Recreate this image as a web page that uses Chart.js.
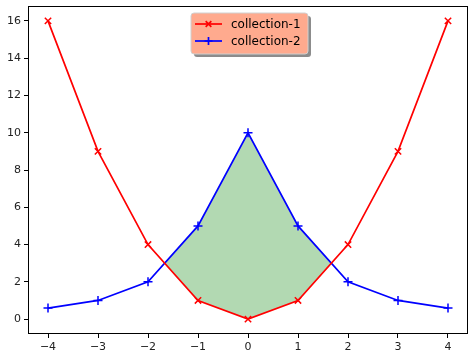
<!DOCTYPE html>
<html>
<head>
<meta charset="utf-8">
<script src="https://cdn.jsdelivr.net/npm/chart.js"></script>
<style>
  body { margin: 0; background: #fff; }
  #wrap { width: 474px; height: 358px; }
</style>
</head>
<body>
<div id="wrap"><canvas id="chart" width="474" height="358"></canvas></div>
<script>
// data
var xValues = [-4, -3, -2, -1, 0, 1, 2, 3, 4];
var collection1 = [16, 9, 4, 1, 0, 1, 4, 9, 16];
var collection2 = [0.59, 1, 2, 5, 10, 5, 2, 1, 0.59];
var xTicks = [-4, -3, -2, -1, 0, 1, 2, 3, 4];
var yTicks = [0, 2, 4, 6, 8, 10, 12, 14, 16];
var seriesNames = ['collection-1', 'collection-2'];

function pts(ys) {
    return xValues.map(function (x, i) { return { x: x, y: ys[i] }; });
}

function fmt(v) {
    return v < 0 ? '\u2212' + Math.abs(v) : String(v);
}

// frame on all four sides + the legend box
var framePlugin = {
    id: 'frame',
    afterDraw: function (chart) {
        var c = chart.ctx, a = chart.chartArea;
        c.save();
        c.strokeStyle = '#000';
        c.lineWidth = 1;
        c.strokeRect(Math.round(a.left) + 0.5, Math.round(a.top) + 0.5,
            Math.round(a.right - a.left) - 1, Math.round(a.bottom - a.top) - 1);

        // legend
        var bx = 191, by = 13, bw = 117, bh = 41;
        c.fillStyle = 'rgba(0,0,0,0.45)';
        roundRect(c, bx + 3, by + 3, bw, bh, 3);
        c.fill();
        c.fillStyle = '#FFAA8E';
        roundRect(c, bx, by, bw, bh, 3);
        c.fill();
        c.strokeStyle = '#d0d0d0';
        c.stroke();

        var rows = [
            { name: seriesNames[0], color: 'red', style: 'crossRot', y: by + 11 },
            { name: seriesNames[1], color: 'blue', style: 'cross', y: by + 28 }
        ];
        rows.forEach(function (r) {
            c.strokeStyle = r.color;
            c.lineWidth = 1.7;
            c.beginPath();
            c.moveTo(bx + 4, r.y);
            c.lineTo(bx + 31, r.y);
            c.stroke();
            Chart.helpers.drawPoint(c, { pointStyle: r.style, radius: 4, borderWidth: 1.5 }, bx + 17.5, r.y);
            c.fillStyle = '#000';
            c.font = '12px "DejaVu Sans"';
            c.textBaseline = 'middle';
            c.fillText(r.name, bx + 40, r.y + 1);
        });
        c.restore();
    }
};

function roundRect(c, x, y, w, h, r) {
    c.beginPath();
    c.moveTo(x + r, y);
    c.lineTo(x + w - r, y);
    c.quadraticCurveTo(x + w, y, x + w, y + r);
    c.lineTo(x + w, y + h - r);
    c.quadraticCurveTo(x + w, y + h, x + w - r, y + h);
    c.lineTo(x + r, y + h);
    c.quadraticCurveTo(x, y + h, x, y + h - r);
    c.lineTo(x, y + r);
    c.quadraticCurveTo(x, y, x + r, y);
    c.closePath();
}

var ctx = document.getElementById('chart').getContext('2d');

var myChart = new Chart(ctx, {
    type: 'line',
    data: {
        datasets: [{
            label: seriesNames[0],
            data: pts(collection1),
            borderColor: 'red',
            backgroundColor: 'red',
            borderWidth: 1.7,
            pointStyle: 'crossRot',
            pointRadius: 4.5,
            pointBorderWidth: 1.5,
            fill: false,
            order: 1
        }, {
            label: seriesNames[1],
            data: pts(collection2),
            borderColor: 'blue',
            backgroundColor: 'blue',
            borderWidth: 1.7,
            pointStyle: 'cross',
            pointRadius: 4.5,
            pointBorderWidth: 1.5,
            fill: { target: 0, above: 'rgba(0,128,0,0.3)', below: 'rgba(0,0,0,0)' },
            order: 2
        }]
    },
    options: {
        responsive: false,
        animation: false,
        layout: { padding: { top: 6, right: 3, left: 0, bottom: 0 } },
        plugins: {
            legend: { display: false },
            tooltip: { enabled: false },
            filler: { propagate: false }
        },
        scales: {
            x: {
                type: 'linear',
                min: -4.4,
                max: 4.4,
                afterBuildTicks: function (s) { s.ticks = xTicks.map(function (v) { return { value: v }; }); },
                afterFit: function (s) { s.height = 24; s.paddingLeft = 0; s.paddingRight = 0; },
                grid: { drawOnChartArea: false, tickLength: 4, color: '#000' },
                border: { display: false },
                ticks: {
                    padding: 3,
                    color: '#222',
                    font: { family: 'DejaVu Sans', size: 11 },
                    maxRotation: 0,
                    callback: fmt
                }
            },
            y: {
                min: -0.8,
                max: 16.8,
                afterBuildTicks: function (s) { s.ticks = yTicks.map(function (v) { return { value: v }; }); },
                afterFit: function (s) { s.width = 28; s.paddingTop = 0; s.paddingBottom = 0; },
                grid: { drawOnChartArea: false, tickLength: 4, color: '#000' },
                border: { display: false },
                ticks: {
                    padding: 3,
                    color: '#222',
                    font: { family: 'DejaVu Sans', size: 11 },
                    callback: fmt
                }
            }
        }
    },
    plugins: [framePlugin]
});
</script>
</body>
</html>
